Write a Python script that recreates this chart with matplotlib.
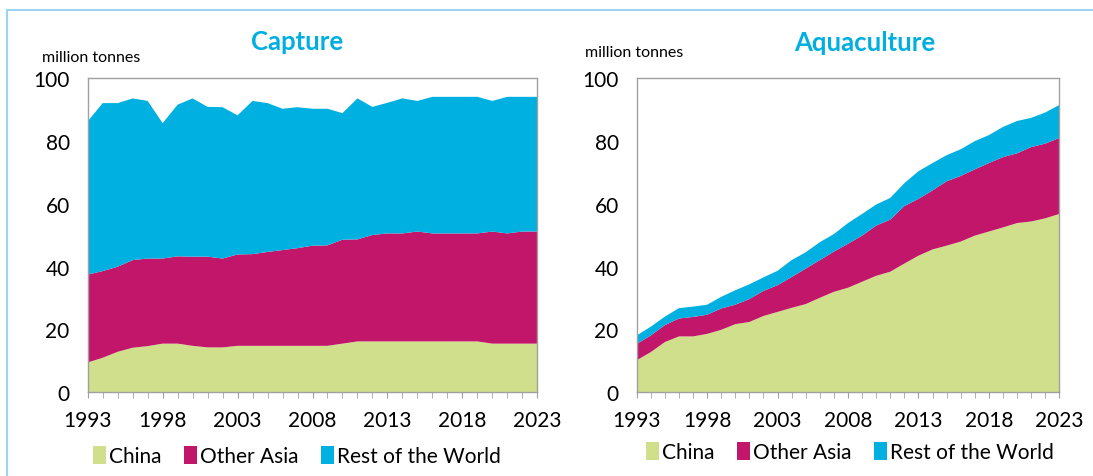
import numpy as np
import matplotlib.pyplot as plt
from matplotlib.lines import Line2D
from matplotlib.patches import Patch

plt.rcParams['font.family'] = ['Lato', 'DejaVu Sans']

years = np.arange(1993, 2024)

# Capture (million tonnes) - stacked tops
cap_china = [9.5, 11.0, 12.9, 14.2, 14.7, 15.5, 15.5, 14.8, 14.3, 14.3,
             14.8, 14.8, 14.8, 14.8, 14.8, 14.8, 14.8, 15.5, 16.2, 16.2,
             16.2, 16.2, 16.2, 16.2, 16.2, 16.2, 16.2, 15.5, 15.5, 15.5, 15.5]
cap_asia_top = [37.5, 38.6, 40.0, 42.1, 42.6, 42.6, 43.3, 43.2, 43.2, 42.6,
                43.9, 44.0, 44.7, 45.3, 45.9, 46.7, 46.8, 48.6, 48.7, 50.1,
                50.6, 50.6, 51.2, 50.6, 50.6, 50.6, 50.6, 51.2, 50.6, 51.2, 51.2]
cap_total = [86.3, 92.1, 92.1, 93.6, 92.8, 85.7, 91.6, 93.6, 90.9, 90.8,
             88.2, 92.8, 92.1, 90.3, 90.8, 90.3, 90.3, 88.9, 93.6, 90.9,
             92.2, 93.6, 92.8, 94.1, 94.1, 94.1, 94.1, 92.8, 94.1, 94.1, 94.1]

# Aquaculture (million tonnes)
aq_china = [10.2, 12.8, 16.0, 17.8, 17.8, 18.6, 19.9, 21.7, 22.4, 24.3,
            25.6, 26.9, 28.1, 30.1, 32.0, 33.3, 35.2, 37.1, 38.4, 41.0,
            43.5, 45.5, 46.7, 48.0, 49.9, 51.2, 52.5, 53.9, 54.4, 55.4, 56.8]
aq_asia_top = [15.4, 18.1, 21.4, 23.5, 24.0, 24.7, 26.7, 27.9, 29.7, 32.3,
               34.1, 36.7, 39.4, 42.1, 44.8, 47.3, 49.9, 53.1, 55.0, 59.3,
               61.6, 64.3, 67.2, 68.9, 71.0, 73.0, 74.9, 76.1, 78.1, 79.2, 81.0]
aq_total = [18.1, 20.9, 24.1, 26.8, 27.3, 27.9, 30.4, 32.5, 34.4, 36.6,
            38.7, 42.1, 44.6, 47.8, 50.4, 53.9, 56.8, 59.8, 61.9, 66.6,
            70.4, 73.0, 75.5, 77.4, 80.0, 81.9, 84.5, 86.4, 87.4, 89.1, 91.5]

labels = ["China", "Other Asia", "Rest of the World"]
colors = ["#D0DF8C", "#C1166A", "#00B0E0"]

fig = plt.figure(figsize=(10.93, 4.77), dpi=100)

def panel(rect, china, asia_top, total):
    ax = fig.add_axes(rect)
    china = np.array(china)
    asia = np.array(asia_top) - china
    rest = np.array(total) - np.array(asia_top)
    ax.stackplot(years, china, asia, rest, colors=colors, linewidth=0)
    ax.set_xlim(1993, 2023)
    ax.set_ylim(0, 100)
    ax.set_xticks(range(1993, 2024, 5))
    ax.set_xticks(years, minor=True)
    ax.set_yticks(range(0, 101, 20))
    ax.tick_params(axis='x', which='both', direction='out', length=4,
                   color='#A0A0A0', labelsize=15, pad=9)
    ax.tick_params(axis='y', length=0, labelsize=15, pad=13)
    for s in ax.spines.values():
        s.set_color('#A0A0A0')
        s.set_linewidth(1.0)
    return ax

W, H = 1093, 477
ax1 = panel([87.7 / W, 1 - 393.3 / H, 449.6 / W, 314 / H],
            cap_china, cap_asia_top, cap_total)
ax2 = panel([636.7 / W, 1 - 393.3 / H, 422.6 / W, 314 / H],
            aq_china, aq_asia_top, aq_total)

# titles and unit labels
fig.text(297 / W, 1 - 42 / H, "Capture", color="#00AEE0", fontsize=18.5,
         fontweight='bold', ha='center', va='center')
fig.text(865 / W, 1 - 43 / H, "Aquaculture", color="#00AEE0", fontsize=18.5,
         fontweight='bold', ha='center', va='center')
fig.text(42 / W, 1 - 58 / H, "million tonnes", fontsize=11.5, ha='left', va='center')
fig.text(585 / W, 1 - 53 / H, "million tonnes", fontsize=11.5, ha='left', va='center')

handles = [Patch(facecolor=c, edgecolor='none') for c in colors]
for cx, cy in [(297, 457), (850, 453)]:
    fig.legend(handles, labels, loc='center', bbox_to_anchor=(cx / W, 1 - cy / H),
               ncol=3, frameon=False, fontsize=15, handlelength=0.6,
               handleheight=1.0, handletextpad=0.15, columnspacing=1.1)

# outer frame lines
fig.add_artist(Line2D([7 / W, 1], [1 - 11 / H, 1 - 11 / H], color="#9DD3F0", lw=1.5))
fig.add_artist(Line2D([7 / W, 7 / W], [0, 1 - 11 / H], color="#9DD3F0", lw=1.5))

fig.savefig("out.png", dpi=100)
